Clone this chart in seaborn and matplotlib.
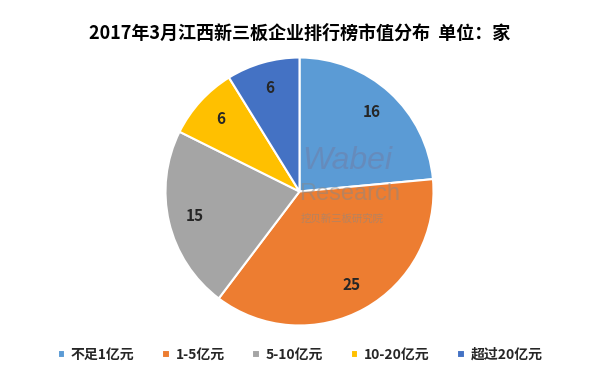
import matplotlib
matplotlib.use("Agg")
import matplotlib.pyplot as plt
import seaborn as sns

# data
categories = ['不足1亿元', '1-5亿元', '5-10亿元', '10-20亿元', '超过20亿元']
counts = [16, 25, 15, 6, 6]
colors = ['#5B9BD5', '#ED7D31', '#A5A5A5', '#FFC000', '#4472C4']

sns.set_theme(style='white')
plt.rcParams['font.family'] = ['Noto Sans CJK SC', 'DejaVu Sans']

fig = plt.figure(figsize=(6, 3.75), dpi=100)
r = 134
ax = fig.add_axes([(299.5 - r) / 600, (375 - 191.5 - r) / 375, 2 * r / 600, 2 * r / 375])

pal = sns.color_palette(colors)
wedges, texts, autotexts = ax.pie(
    counts, colors=pal, startangle=90, counterclock=False,
    autopct=lambda p: f'{round(p * sum(counts) / 100):d}', pctdistance=0.8,
    wedgeprops=dict(edgecolor='white', linewidth=1.5),
    textprops=dict(fontsize=11, fontweight='bold', color='#262626'))
ax.set_aspect('equal')
ax.set_xlim(-1, 1)
ax.set_ylim(-1, 1)

# watermark
ax.text(0.02, 0.23, 'Wabei', fontsize=23, style='italic', color='#6f7fa8', alpha=0.55,
        family='Liberation Sans', ha='left', va='center')
ax.text(0.0, -0.02, 'Research', fontsize=17, color='#888888', alpha=0.5,
        family='Liberation Sans', ha='left', va='center')
ax.text(0.01, -0.2, '挖贝新三板研究院', fontsize=7.5, color='#888888', alpha=0.55,
        ha='left', va='center')

fig.text(0.5, 1 - 33 / 375, '2017年3月江西新三板企业排行榜市值分布  单位：家',
         ha='center', va='center', fontsize=13, fontweight='bold', color='black')

leg = fig.legend(wedges, categories, loc='center', bbox_to_anchor=(0.5, 1 - 355 / 375),
                 ncol=5, frameon=False, handlelength=0.55, handleheight=0.55,
                 handletextpad=0.4, columnspacing=2.0,
                 prop=dict(size=10, weight='bold'))

fig.savefig('out.png', dpi=100, facecolor='white')
